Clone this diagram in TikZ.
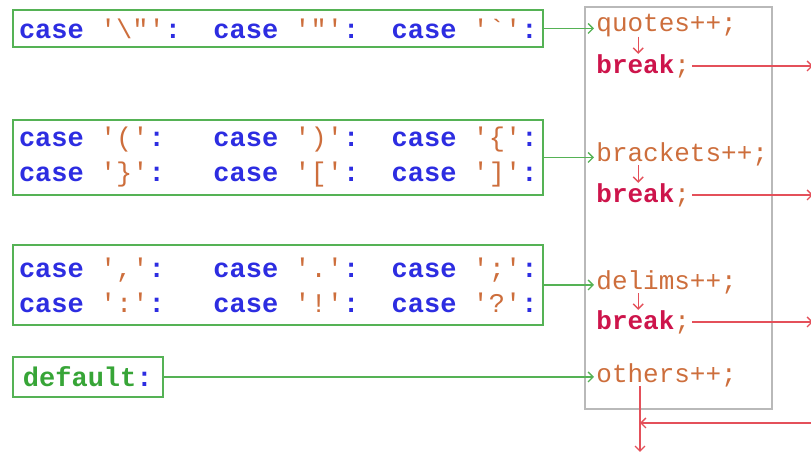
\documentclass[tikz,border=0pt]{standalone}
\usepackage{fontspec}
\setmonofont{Liberation Mono}
\usetikzlibrary{arrows.meta}

\definecolor{casegreen}{RGB}{85,178,85}
\definecolor{defgreen}{RGB}{55,165,55}
\definecolor{keyblue}{RGB}{45,45,225}
\definecolor{charorange}{RGB}{205,110,60}
\definecolor{breakred}{RGB}{205,20,75}
\definecolor{flowred}{RGB}{228,80,90}
\definecolor{framegray}{RGB}{185,185,185}

\newcommand{\kw}[1]{\textcolor{keyblue}{\bfseries #1}}
\newcommand{\ch}[1]{\textcolor{charorange}{#1}}
\newcommand{\cs}[1]{\kw{case}\ \ch{\textquotesingle#1\textquotesingle}\kw{:}}
\newcommand{\brk}{\textcolor{breakred}{\bfseries break}\ch{;}}

\begin{document}
\begin{tikzpicture}[
x=0.5pt, y=-0.5pt,
every node/.style={
font=\ttfamily\fontsize{13.5}{17.5}\selectfont
},
enter/.style={-{Straight Barb[length=2.5pt,width=5pt]}, draw=casegreen, line width=0.7pt},
flow/.style={-{Straight Barb[length=2.5pt,width=5pt]}, draw=flowred, line width=0.7pt}
]

% =====================================================
% Styles
% =====================================================

\tikzstyle{casebox} =
[rectangle, anchor=west,
draw=casegreen,
line width=1pt,
inner sep=3pt,
minimum width=265pt,
align=left]

\tikzstyle{stmt} =
[anchor=west,
inner sep=1pt,
text=charorange,
font=\ttfamily\fontsize{13}{16}\selectfont]

\tikzstyle{frame} =
[rectangle,
draw=framegray,
line width=1.2pt]

\useasboundingbox (0,0) rectangle (811,453);

% =====================================================
% Nodes
% =====================================================

\node (body) [frame, minimum width=93.5pt, minimum height=201pt]
at (678.5,208) {};

\node (quotecase) [casebox, minimum height=18.5pt] at (12,28.5)
{\cs{\textbackslash"}\ \ \cs{"}\ \ \cs{\textasciigrave}};

\node (bracketcase) [casebox, minimum height=37.5pt] at (12,157.5)
{\cs{(}\ \ \ \cs{)}\ \ \cs{\{}\\
\cs{\}}\ \ \ \cs{[}\ \ \cs{]}};

\node (delimcase) [casebox, minimum height=40pt] at (12,285)
{\cs{,}\ \ \ \cs{.}\ \ \cs{;}\\
\cs{:}\ \ \ \cs{!}\ \ \cs{?}};

\node (defaultcase) [casebox, minimum width=0pt, minimum height=20pt, inner xsep=5pt]
at (12,377)
{\textcolor{defgreen}{\bfseries default}\kw{:}};

\node (quotes) [stmt] at (594,26) {quotes++;};

\node (brk1) [stmt] at (594,66) {\brk};

\node (brackets) [stmt] at (594,154) {brackets++;};

\node (brk2) [stmt] at (594,195) {\brk};

\node (delims) [stmt] at (594,282) {delims++;};

\node (brk3) [stmt] at (594,322) {\brk};

\node (others) [stmt] at (594,375) {others++;};

\coordinate (out1) at (813,66);
\coordinate (out2) at (813,195);
\coordinate (out3) at (813,322);
\coordinate (back) at (813,423);
\coordinate (join) at (640,423);
\coordinate (exit) at (640,452);

% =====================================================
% Arrows
% =====================================================

\draw [enter] (quotecase.east) -- (quotecase.east -| quotes.west);

\draw [enter] (bracketcase.east) -- (bracketcase.east -| brackets.west);

\draw [enter] (delimcase.east) -- (delimcase.east -| delims.west);

\draw [enter] (defaultcase.east) -- (defaultcase.east -| others.west);

\draw [flow] ([xshift=-2.5pt,yshift=1.5pt]brk1.north |- quotes.south) -- ([xshift=-2.5pt,yshift=-1pt]brk1.north);

\draw [flow] ([xshift=-2.5pt,yshift=1.5pt]brk2.north |- brackets.south) -- ([xshift=-2.5pt,yshift=-1pt]brk2.north);

\draw [flow] ([xshift=-2.5pt,yshift=1.5pt]brk3.north |- delims.south) -- ([xshift=-2.5pt,yshift=-1pt]brk3.north);

\draw [flow] (brk1.east) -- (brk1.east -| out1);

\draw [flow] (brk2.east) -- (brk2.east -| out2);

\draw [flow] (brk3.east) -- (brk3.east -| out3);

\draw [flow] (back) -- (join);

\draw [flow] ([yshift=1.5pt]others.south -| join) -- (exit);

\end{tikzpicture}
\end{document}
